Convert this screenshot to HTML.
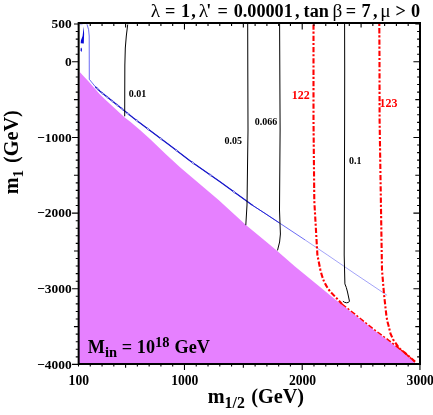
<!DOCTYPE html>
<html><head><meta charset="utf-8"><title>plot</title>
<style>
html,body{margin:0;padding:0;background:#fff;}
svg{display:block;will-change:transform;}
text{font-family:"Liberation Serif",serif;font-weight:bold;fill:#000;}
.g{font-weight:normal;font-size:19.3px;}
</style></head><body>
<svg width="433" height="415" viewBox="0 0 433 415">
<rect x="0" y="0" width="433" height="415" fill="#fff"/>
<path d="M78.7 364.0 L79.7 72.0 L89.5 82.5 L100.0 94.6 L104.9 99.3 L125.0 117.7 L130.0 121.4 L140.0 129.9 L150.0 139.0 L165.9 154.3 L180.0 167.2 L218.6 200.0 L235.0 215.1 L245.6 224.8 L265.0 240.8 L276.1 250.0 L295.0 266.6 L335.0 299.2 L355.0 315.0 L375.0 331.0 L389.5 341.5 L405.0 353.9 L415.3 362.9 L415.5 364.0 Z" fill="#E680FF"/>
<path d="M87 24.3 L88.6 29.6 L89.2 36 L89.3 79.3 L89.3 79.3 L95.3 86.7 L100.0 91.3 L124.1 110.4 L133.4 118.0 L150.0 130.5 L170.0 145.4 L189.6 160.5 L220.0 181.7 L252.8 205.5 L265.0 213.4 L279.5 223.0 L305.0 239.9" fill="none" stroke="#2222ee" stroke-opacity="0.85" stroke-width="0.8"/>
<path d="M305.0 239.9 L327.5 255.0 L355.0 273.8 L387.1 295.3" fill="none" stroke="#2222ee" stroke-opacity="0.6" stroke-width="0.7"/>
<path d="M95.3 86.7 L100.0 91.3 L124.1 110.4 L133.4 118.0 L150.0 130.5 L170.0 145.4 L189.6 160.5 L220.0 181.7 L252.8 205.5" fill="none" stroke="#1818c8" stroke-width="1.25"/>
<path d="M252.8 205.5 L265.0 213.4 L279.5 223.0" fill="none" stroke="#2020d0" stroke-width="0.9"/>
<ellipse cx="97.5" cy="88.9" rx="1.6" ry="0.66" transform="rotate(44.4 97.5 88.9)" fill="#fff" stroke="#1818c8" stroke-width="0.5"/>
<ellipse cx="102.5" cy="93.3" rx="1.6" ry="0.66" transform="rotate(38.4 102.5 93.3)" fill="#fff" stroke="#1818c8" stroke-width="0.5"/>
<ellipse cx="107.5" cy="97.2" rx="1.6" ry="0.66" transform="rotate(38.4 107.5 97.2)" fill="#fff" stroke="#1818c8" stroke-width="0.5"/>
<ellipse cx="112.5" cy="101.2" rx="1.6" ry="0.66" transform="rotate(38.4 112.5 101.2)" fill="#fff" stroke="#1818c8" stroke-width="0.5"/>
<ellipse cx="117.5" cy="105.2" rx="1.6" ry="0.66" transform="rotate(38.4 117.5 105.2)" fill="#fff" stroke="#1818c8" stroke-width="0.5"/>
<ellipse cx="122.5" cy="109.1" rx="1.6" ry="0.66" transform="rotate(38.4 122.5 109.1)" fill="#fff" stroke="#1818c8" stroke-width="0.5"/>
<ellipse cx="128.0" cy="113.6" rx="1.6" ry="0.66" transform="rotate(39.3 128.0 113.6)" fill="#fff" stroke="#1818c8" stroke-width="0.5"/>
<ellipse cx="137.0" cy="120.7" rx="1.6" ry="0.66" transform="rotate(37.0 137.0 120.7)" fill="#fff" stroke="#1818c8" stroke-width="0.5"/>
<ellipse cx="148.0" cy="129.0" rx="1.6" ry="0.66" transform="rotate(37.0 148.0 129.0)" fill="#fff" stroke="#1818c8" stroke-width="0.5"/>
<ellipse cx="161.0" cy="138.7" rx="1.6" ry="0.66" transform="rotate(36.7 161.0 138.7)" fill="#fff" stroke="#1818c8" stroke-width="0.5"/>
<ellipse cx="176.5" cy="150.4" rx="1.6" ry="0.66" transform="rotate(37.6 176.5 150.4)" fill="#fff" stroke="#1818c8" stroke-width="0.5"/>
<ellipse cx="193.0" cy="162.9" rx="1.6" ry="0.66" transform="rotate(34.9 193.0 162.9)" fill="#fff" stroke="#1818c8" stroke-width="0.5"/>
<ellipse cx="210.5" cy="175.1" rx="1.6" ry="0.66" transform="rotate(34.9 210.5 175.1)" fill="#fff" stroke="#1818c8" stroke-width="0.5"/>
<ellipse cx="234.0" cy="191.9" rx="1.6" ry="0.66" transform="rotate(36.0 234.0 191.9)" fill="#fff" stroke="#1818c8" stroke-width="0.5"/>
<path d="M83.8 26.6 L84.1 34 L83.8 43.4 L80.7 43.3 L80.9 40.5 L82.6 36 L83.2 31 Z" fill="#0808d8"/>
<path d="M81.4 47.5 L82 49.5 L81.6 52 L80.6 50.8 L80.7 48.5 Z" fill="#0808d8"/>
<path d="M79.8 24.6 L82.6 24.7" stroke="#2222ee" stroke-opacity="0.45" stroke-width="0.7" fill="none"/>
<g fill="none" stroke="#000" stroke-width="1">
<path d="M127.7 24.5 L126.3 36 L125.3 48 L124.85 65 L124.75 90 L124.7 116.3"/>
<path d="M247.7 24 L247.8 70 L248 130 L247 205 L245.8 225.2"/>
<path d="M279.6 24 L280.1 130 L279.5 210 L280.4 234 L279.6 242 L277.5 250.4"/>
<path d="M344.6 24 L344.7 70 L344.6 130 L344.2 255 L344.9 283.9 L346.3 287.5 L347.5 292 L349.5 301.4 L348 302.5 L346.6 302.8 L344.5 302.3 L342.9 301.2"/>
</g>
<g fill="none" stroke="#f00" stroke-width="2.1" stroke-dasharray="5.3 1.9 2.1 2">
<path d="M313.5 24.4 L313.5 120 L314.3 201 L317.4 255 L320.3 269.5 Q321.8 276 323.9 281 Q327 288 331.1 292.6 L337 298.6 L342 304.0"/>
<path stroke-width="1.5" d="M342 304.0 L355.0 314.2 L375.0 330.2 L389.5 340.8 L398.0 347.6 L405.0 353.1 L415.0 361.9"/>
<path stroke-dashoffset="7.2" d="M379.3 24 L379.5 60 L379.6 120 L381.5 240 L382 270 L384 294.1 L386.4 315.9 Q387.4 322 388.4 325 L390.5 333.7 L393.1 339.5 L396 343.6 L399 348.1 L405 352.9 L415 361.6"/>
</g>
<g stroke="#000" fill="none">
<rect x="78.65" y="23.00" width="341.35" height="341.00" stroke-width="2"/>
<path d="M78.65 364.40h-6.6M420.00 364.40h-6.6M78.65 356.84h-2.9M420.00 356.84h-2.9M78.65 349.27h-2.9M420.00 349.27h-2.9M78.65 341.71h-2.9M420.00 341.71h-2.9M78.65 334.14h-2.9M420.00 334.14h-2.9M78.65 326.58h-4.7M420.00 326.58h-4.7M78.65 319.01h-2.9M420.00 319.01h-2.9M78.65 311.45h-2.9M420.00 311.45h-2.9M78.65 303.88h-2.9M420.00 303.88h-2.9M78.65 296.32h-2.9M420.00 296.32h-2.9M78.65 288.76h-6.6M420.00 288.76h-6.6M78.65 281.19h-2.9M420.00 281.19h-2.9M78.65 273.63h-2.9M420.00 273.63h-2.9M78.65 266.06h-2.9M420.00 266.06h-2.9M78.65 258.50h-2.9M420.00 258.50h-2.9M78.65 250.93h-4.7M420.00 250.93h-4.7M78.65 243.37h-2.9M420.00 243.37h-2.9M78.65 235.80h-2.9M420.00 235.80h-2.9M78.65 228.24h-2.9M420.00 228.24h-2.9M78.65 220.68h-2.9M420.00 220.68h-2.9M78.65 213.11h-6.6M420.00 213.11h-6.6M78.65 205.55h-2.9M420.00 205.55h-2.9M78.65 197.98h-2.9M420.00 197.98h-2.9M78.65 190.42h-2.9M420.00 190.42h-2.9M78.65 182.85h-2.9M420.00 182.85h-2.9M78.65 175.29h-4.7M420.00 175.29h-4.7M78.65 167.72h-2.9M420.00 167.72h-2.9M78.65 160.16h-2.9M420.00 160.16h-2.9M78.65 152.60h-2.9M420.00 152.60h-2.9M78.65 145.03h-2.9M420.00 145.03h-2.9M78.65 137.47h-6.6M420.00 137.47h-6.6M78.65 129.90h-2.9M420.00 129.90h-2.9M78.65 122.34h-2.9M420.00 122.34h-2.9M78.65 114.77h-2.9M420.00 114.77h-2.9M78.65 107.21h-2.9M420.00 107.21h-2.9M78.65 99.64h-4.7M420.00 99.64h-4.7M78.65 92.08h-2.9M420.00 92.08h-2.9M78.65 84.52h-2.9M420.00 84.52h-2.9M78.65 76.95h-2.9M420.00 76.95h-2.9M78.65 69.39h-2.9M420.00 69.39h-2.9M78.65 61.82h-6.6M420.00 61.82h-6.6M78.65 54.26h-2.9M420.00 54.26h-2.9M78.65 46.69h-2.9M420.00 46.69h-2.9M78.65 39.13h-2.9M420.00 39.13h-2.9M78.65 31.56h-2.9M420.00 31.56h-2.9M78.65 24.00h-4.7M420.00 24.00h-4.7M78.50 364.00v2.5M78.50 23.00v3.1M90.27 364.00v2.5M90.27 23.00v3.1M102.05 364.00v2.5M102.05 23.00v3.1M113.82 364.00v2.5M113.82 23.00v3.1M125.60 364.00v3.8M125.60 23.00v4.4M137.37 364.00v2.5M137.37 23.00v3.1M149.14 364.00v2.5M149.14 23.00v3.1M160.92 364.00v2.5M160.92 23.00v3.1M172.69 364.00v2.5M172.69 23.00v3.1M184.47 364.00v6.0M184.47 23.00v6.6M196.24 364.00v2.5M196.24 23.00v3.1M208.02 364.00v2.5M208.02 23.00v3.1M219.79 364.00v2.5M219.79 23.00v3.1M231.56 364.00v2.5M231.56 23.00v3.1M243.34 364.00v3.8M243.34 23.00v4.4M255.11 364.00v2.5M255.11 23.00v3.1M266.89 364.00v2.5M266.89 23.00v3.1M278.66 364.00v2.5M278.66 23.00v3.1M290.43 364.00v2.5M290.43 23.00v3.1M302.21 364.00v6.0M302.21 23.00v6.6M313.98 364.00v2.5M313.98 23.00v3.1M325.76 364.00v2.5M325.76 23.00v3.1M337.53 364.00v2.5M337.53 23.00v3.1M349.31 364.00v2.5M349.31 23.00v3.1M361.08 364.00v3.8M361.08 23.00v4.4M372.85 364.00v2.5M372.85 23.00v3.1M384.63 364.00v2.5M384.63 23.00v3.1M396.40 364.00v2.5M396.40 23.00v3.1M408.18 364.00v2.5M408.18 23.00v3.1M419.95 364.00v6.0M419.95 23.00v6.6" stroke-width="1.1"/>
</g>
<text x="71.6" y="27.6" font-size="13.4" text-anchor="end">500</text>
<text x="71.6" y="66.1" font-size="13.4" text-anchor="end">0</text>
<text x="71.6" y="141.8" font-size="13.4" text-anchor="end">−1000</text>
<text x="71.6" y="217.4" font-size="13.4" text-anchor="end">−2000</text>
<text x="71.6" y="293.1" font-size="13.4" text-anchor="end">−3000</text>
<text x="71.6" y="368.7" font-size="13.4" text-anchor="end">−4000</text>
<text x="78.8" y="384.9" font-size="13.6" text-anchor="middle">100</text>
<text x="184.8" y="384.9" font-size="13.6" text-anchor="middle">1000</text>
<text x="302.5" y="384.9" font-size="13.6" text-anchor="middle">2000</text>
<text x="420.2" y="384.9" font-size="13.6" text-anchor="middle">3000</text>
<text x="128.7" y="97" font-size="10">0.01</text>
<text x="224.6" y="144.4" font-size="10">0.05</text>
<text x="254.7" y="125" font-size="10">0.066</text>
<text x="348.9" y="164" font-size="10">0.1</text>
<text x="291.8" y="98.8" font-size="12" style="fill:#f00">122</text>
<text x="379.6" y="106.9" font-size="12" style="fill:#f00">123</text>
<text y="16.8" font-size="18.2"><tspan x="150.7" class="g">λ</tspan><tspan x="164.9">=</tspan><tspan x="180.9">1</tspan><tspan x="191.2">,</tspan><tspan x="198.8" class="g">λ</tspan><tspan x="206.3">'</tspan><tspan x="217.5">=</tspan><tspan x="233.7">0.00001</tspan><tspan x="295.1">,</tspan><tspan x="303.6">tan</tspan><tspan x="332.6" class="g">β</tspan><tspan x="345.8">=</tspan><tspan x="361.4">7</tspan><tspan x="373.1">,</tspan><tspan x="380.3" class="g">μ</tspan><tspan x="395.5">&gt;</tspan><tspan x="411.0">0</tspan></text>
<text x="87.8" y="352.5" font-size="18.2">M<tspan font-size="14.5" dy="4.8">in</tspan><tspan dy="-4.8" x="121.7">=</tspan><tspan x="136.8">10</tspan><tspan font-size="14.5" dy="-5.2">18</tspan><tspan dy="5.2" x="174.5">GeV</tspan></text>
<text x="207.7" y="402.9" font-size="20.3">m<tspan font-size="15.8" dy="5">1/2</tspan><tspan dy="-5" x="251.2">(GeV)</tspan></text>
<text transform="translate(17.6,194.3) rotate(-90)" font-size="20.3">m<tspan font-size="15" dy="5.3">1</tspan><tspan dy="-5.3" x="31.2">(GeV)</tspan></text>
</svg>
</body></html>
